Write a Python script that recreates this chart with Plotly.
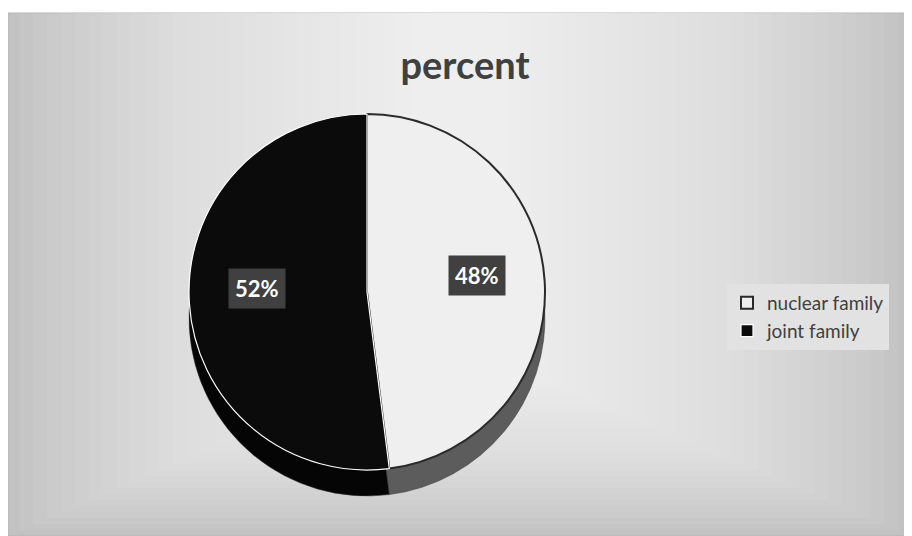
import plotly.graph_objects as go
import numpy as np

# ---- data ----
categories = ["nuclear family", "joint family"]
values = [48, 52]
top_colors = ["#efefef", "#0b0b0b"]
side_colors = ["#5c5c5c", "#050505"]
title_text = "percent"

# the page body adds an 8px margin, so the figure is 8px smaller and shifted
OFF = 8
W, H = 912 - OFF, 536 - OFF
FONT = "Lato"

def px2paper(x, y):
    """reference pixel -> paper coords of the figure"""
    return (x - OFF) / W, 1 - (y - OFF) / H

fig = go.Figure()

# panel background (approximate radial gradient)
px0, py0, px1, py1 = 5, 13, 912, 536
shapes = []
x0, y0 = px2paper(px0, py0)
x1, y1 = px2paper(px1, py1)
shapes.append(dict(type="rect", xref="paper", yref="paper", x0=max(x0, 0), y0=y1, x1=x1, y1=y0,
                   fillcolor="#c2c2c2", line=dict(color="#b5b5b5", width=1), layer="below"))
n = 30
for i in range(1, n + 1):
    ix = i * 14
    ib = i * 6
    xa, ya = px2paper(px0 + ix, py0)
    xb, yb = px2paper(px1 - ix, py1 - ib)
    shapes.append(dict(type="rect", xref="paper", yref="paper", x0=xa, y0=yb, x1=xb, y1=ya,
                       fillcolor="rgba(255,255,255,0.055)", line=dict(width=0), layer="below"))

# pie geometry (reference pixels)
cx, cy, R, depth = 367, 292, 178, 26

def dom(cx, cy, R):
    xa, yt = px2paper(cx - R, cy - R)
    xb, yb = px2paper(cx + R, cy + R)
    return dict(x=[xa, xb], y=[yb, yt])

# side (depth) of the pie
fig.add_trace(go.Pie(labels=categories, values=values, sort=False, direction="clockwise",
                     rotation=0, domain=dom(cx, cy + depth, R), textinfo="none",
                     marker=dict(colors=side_colors, line=dict(color="#3a3a3a", width=0.5)),
                     showlegend=False, hoverinfo="skip"))
# top face
fig.add_trace(go.Pie(labels=categories, values=values, sort=False, direction="clockwise",
                     rotation=0, domain=dom(cx, cy, R), textinfo="none",
                     marker=dict(colors=top_colors, line=dict(color=["#2a2a2a", "#ffffff"], width=[2, 1.2])),
                     showlegend=True))

# data labels in dark boxes, positioned from the slice mid-angles
tot = sum(values)
start = 0.0
annotations = []
for v in values:
    mid = np.deg2rad((start + v / 2) / tot * 360)
    start += v
    lx = cx + 0.62 * R * np.sin(mid)
    ly = cy - 0.62 * R * np.cos(mid) - 10
    ax, ay = px2paper(lx, ly)
    annotations.append(dict(x=ax, y=ay, xref="paper", yref="paper", showarrow=False,
                            xanchor="center", yanchor="middle",
                            text=f"<b>{round(v / tot * 100)}%</b>",
                            font=dict(family=FONT, size=22, color="#ffffff"),
                            bgcolor="#404040", borderpad=6))

tx, ty = px2paper(465, 66)
lgx, lgy = px2paper(727, 284)
fig.update_layout(
    width=W, height=H,
    margin=dict(l=0, r=0, t=0, b=0),
    paper_bgcolor="#ffffff",
    plot_bgcolor="#ffffff",
    shapes=shapes,
    annotations=annotations,
    title=dict(text=f"<b>{title_text}</b>", x=tx, xanchor="center",
               y=ty, yanchor="middle",
               font=dict(family=FONT, size=38, color="#404040")),
    legend=dict(x=lgx, y=lgy, xanchor="left", yanchor="top",
                bgcolor="#e2e2e2", font=dict(family=FONT, size=19, color="#404040"),
                itemwidth=30, tracegroupgap=0),
)

fig.write_html("out.html")
